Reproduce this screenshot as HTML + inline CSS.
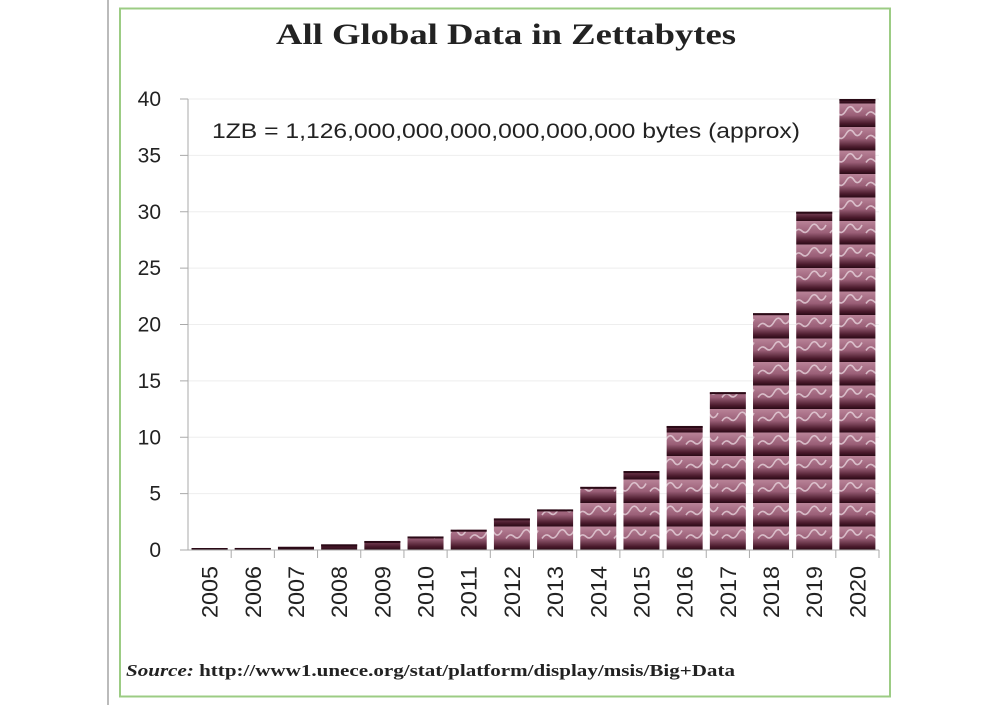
<!DOCTYPE html>
<html><head><meta charset="utf-8"><style>
body{margin:0;background:#fff;width:1000px;height:705px;overflow:hidden}
svg{display:block}
</style></head><body>
<svg width="1000" height="705" viewBox="0 0 1000 705">
<defs>
<linearGradient id="tg" x1="0" y1="0" x2="0" y2="1">
<stop offset="0" stop-color="#b98398"/><stop offset="0.5" stop-color="#9a5f77"/><stop offset="0.85" stop-color="#4a1a2c"/><stop offset="1" stop-color="#2a0a16"/>
</linearGradient>
<pattern id="tile" patternUnits="userSpaceOnUse" width="36" height="23.5" y="550">
<rect width="36" height="23.5" fill="url(#tg)"/>
<path d="M2 12 q4 -6 8 -2 t8 -3 t8 -1 t8 -2" stroke="#f0e0e8" stroke-width="1.6" fill="none" opacity="0.7"/>
</pattern>
</defs>
<line x1="108" y1="0" x2="108" y2="705" stroke="#bbb" stroke-width="2"/>
<rect x="120" y="8.5" width="770" height="688" fill="#fff" stroke="#9ccc84" stroke-width="2"/>
<text x="276" y="44" textLength="460" lengthAdjust="spacingAndGlyphs" font-family="Liberation Serif, serif" font-weight="bold" font-size="30" fill="#222">All Global Data in Zettabytes</text>
<g id="grid"></g>
<g id="bars"></g>
<g id="axes"></g>
<text x="212" y="138" textLength="588" lengthAdjust="spacingAndGlyphs" font-family="Liberation Sans, sans-serif" font-size="21" fill="#222">1ZB = 1,126,000,000,000,000,000,000  bytes (approx)</text>
<text x="126" y="676" textLength="609" lengthAdjust="spacingAndGlyphs" font-family="Liberation Serif, serif" font-weight="bold" font-size="17" fill="#222"><tspan font-style="italic">Source:</tspan>  http://www1.unece.org/stat/platform/display/msis/Big+Data</text>
</svg>
<script>
const categories=["2005","2006","2007","2008","2009","2010","2011","2012","2013","2014","2015","2016","2017","2018","2019","2020"];
const values=[0.13,0.18,0.28,0.5,0.8,1.2,1.8,2.8,3.6,5.6,7,11,14,21,30,40];
const yTicks=[0,5,10,15,20,25,30,35,40];
const NS="http://www.w3.org/2000/svg";
const x0=188,x1=879,y0=550,y1=99,yMax=40;
const slot=(x1-x0)/categories.length;
const xPos=i=>x0+slot*i+slot/2;
const yPos=v=>y0-(v/yMax)*(y0-y1);
function mk(t,a,p){const e=document.createElementNS(NS,t);for(const k in a)e.setAttribute(k,a[k]);p.appendChild(e);return e;}
const grid=document.getElementById('grid'),bars=document.getElementById('bars'),axes=document.getElementById('axes');
yTicks.forEach(v=>{
 const y=yPos(v);
 if(v>0){const g=mk('line',{x1:x0,x2:x1,y1:y,y2:y,stroke:'#eeeeee','stroke-width':1},grid);
 
 }
 const tk=mk('line',{x1:x0-8,x2:x0,y1:y,y2:y,stroke:'#aaa','stroke-width':1},axes);
 
 
 const t=mk('text',{x:161,y:y+7,'text-anchor':'end','font-family':'Liberation Sans, sans-serif','font-size':21,fill:'#222'},axes);
 t.textContent=v;
 
 
});
const ya=mk('line',{x1:x0,x2:x0,y1:y1,y2:y0,stroke:'#aaa','stroke-width':1},axes);


const xa=mk('line',{x1:x0,x2:x1,y1:y0,y2:y0,stroke:'#aaa','stroke-width':1},axes);


categories.forEach((c,i)=>{
 const xc=xPos(i),v=values[i],y=yPos(v),w=36;
 const h=Math.max(y0-y,2);
 const b=mk('rect',{x:xc-w/2,y:y0-h,width:w,height:h,fill:'url(#tile)'},bars);
 
 
 const top=mk('rect',{x:xc-w/2,y:y0-h,width:w,height:Math.min(2,h),fill:'#2a0a16'},bars);
 
 
 const tk=mk('line',{x1:x0+slot*(i+1),x2:x0+slot*(i+1),y1:y0,y2:y0+8,stroke:'#aaa','stroke-width':1},axes);
 
 
 const t=mk('text',{x:0,y:0,'text-anchor':'end',textLength:52,lengthAdjust:'spacingAndGlyphs','font-family':'Liberation Sans, sans-serif','font-size':22,fill:'#222',transform:`translate(${xc+8},566) rotate(-90)`},axes);
 t.textContent=c;
 
 
});
</script>
</body></html>
